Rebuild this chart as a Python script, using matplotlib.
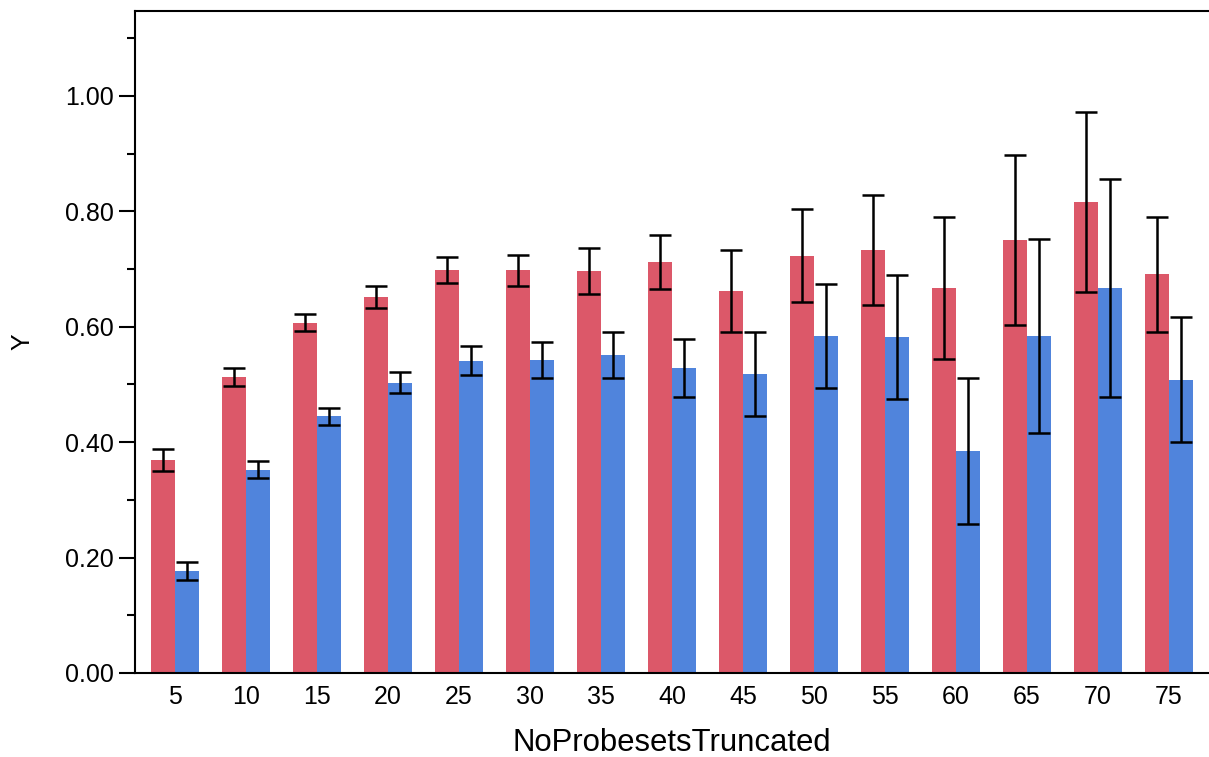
import matplotlib
matplotlib.use("Agg")
import matplotlib.pyplot as plt
import numpy as np
from matplotlib.ticker import MultipleLocator, FormatStrFormatter

plt.rcParams['font.family'] = ['Liberation Sans', 'DejaVu Sans']

categories = ["5", "10", "15", "20", "25", "30", "35", "40", "45", "50", "55", "60", "65", "70", "75"]
red_values = [0.369, 0.513, 0.607, 0.652, 0.698, 0.698, 0.697, 0.712, 0.662, 0.723, 0.733, 0.667, 0.750, 0.816, 0.691]
red_err = [0.019, 0.015, 0.0145, 0.019, 0.023, 0.027, 0.0395, 0.0475, 0.0705, 0.081, 0.0955, 0.1225, 0.1475, 0.1555, 0.0995]
blue_values = [0.177, 0.352, 0.445, 0.503, 0.541, 0.542, 0.551, 0.529, 0.518, 0.584, 0.582, 0.385, 0.584, 0.667, 0.508]
blue_err = [0.015, 0.0145, 0.0145, 0.0185, 0.025, 0.0315, 0.0395, 0.05, 0.073, 0.0895, 0.108, 0.1265, 0.168, 0.1885, 0.108]

fig = plt.figure(figsize=(12.09, 7.57), dpi=100)
ax = fig.add_axes([135/1209, 1-673/757, 1-135/1209, (673-11)/757])

x = np.arange(len(categories))
w = 0.34
ekw = dict(ecolor='black', elinewidth=1.8, capsize=8, capthick=1.8)
ax.bar(x - w/2, red_values, width=w, color='#DC5869', yerr=red_err, error_kw=ekw)
ax.bar(x + w/2, blue_values, width=w, color='#5084DC', yerr=blue_err, error_kw=ekw)

ax.set_xlim(-0.565, len(categories) - 0.435)
ax.set_ylim(0, 1.147)
ax.set_xticks(x)
ax.set_xticklabels(categories)
ax.yaxis.set_major_locator(MultipleLocator(0.2))
ax.yaxis.set_minor_locator(MultipleLocator(0.1))
ax.yaxis.set_major_formatter(FormatStrFormatter('%.2f'))

for s in ['left', 'bottom', 'top']:
    ax.spines[s].set_linewidth(1.5)
ax.spines['right'].set_visible(False)

ax.tick_params(axis='y', which='major', length=11.5, width=1.5, labelsize=18, pad=4, direction='out')
ax.tick_params(axis='y', which='minor', length=5.8, width=1.5, direction='out')
ax.tick_params(axis='x', which='both', length=0, labelsize=18, pad=9)

ax.set_xlabel('NoProbesetsTruncated', fontsize=22.4, labelpad=13)
ax.set_ylabel('Y', fontsize=18, labelpad=22)

fig.savefig('out.png', dpi=100)
